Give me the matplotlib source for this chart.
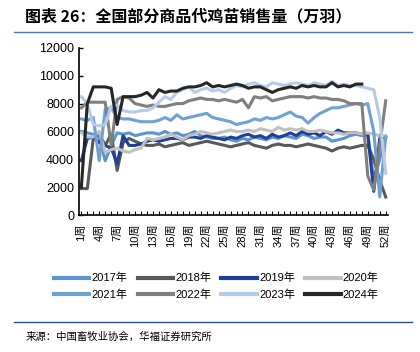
import matplotlib
matplotlib.use('Agg')
import matplotlib.pyplot as plt
from matplotlib.lines import Line2D

plt.rcParams['font.family'] = ['Liberation Sans', 'Noto Sans CJK SC']

# 周度数据（万羽）
weeks = list(range(1, 53))
tick_weeks = list(range(1, 53, 3))

y2017 = [6000, 5900, 5800, 5600, 3900, 5000, 5900, 5800, 5900, 5700, 5800, 5900, 5900, 5800,
         6000, 5800, 5900, 5700, 5800, 6000, 5700, 5600, 5500, 5500, 5600, 5400, 5300, 5500,
         5400, 5600, 5500, 5400, 5600, 5500, 5700, 5600, 5500, 5800, 5700, 5500, 5600, 5600,
         5300, 5400, 5500, 5700, 5800, 5700, 5800, 2500, 4000, 5600]
y2018 = [1900, 1900, 5500, 5800, 5000, 5800, 3200, 5200, 5500, 5300, 5100, 5000, 5000, 5100,
         4900, 5000, 5100, 5200, 5000, 5100, 5200, 5300, 5200, 5100, 5000, 4900, 5000, 5100,
         5200, 5000, 4900, 4800, 5000, 5100, 5000, 5000, 4900, 5000, 5100, 5000, 4900, 4800,
         4600, 4800, 4900, 4800, 4900, 5000, 5000, 4000, 2500, 1300]
y2019 = [3900, 5500, 5600, 5200, 5000, 4800, 3700, 5700, 5000, 5000, 5100, 5300, 5400, 5300,
         5400, 5500, 5500, 5400, 5600, 5600, 5500, 5700, 5600, 5500, 5400, 5600, 5500, 5700,
         5800, 5600, 5700, 5500, 5800, 5600, 5700, 5900, 5700, 6000, 5800, 5900, 5700, 6000,
         5800, 6100, 5900, 5900, 5900, 5800, 5800, 1700, 5500, 5600]
y2020 = [5900, 5600, 5600, 6000, 4500, 4700, 4800, 4600, 4500, 4700, 4800, 5500, 5400, 5500,
         5600, 5800, 5600, 5400, 5700, 5800, 6000, 5900, 5800, 5900, 6000, 6100, 6000, 6000,
         6100, 6000, 6200, 6100, 6000, 6300, 6100, 6200, 6100, 6200, 6000, 6000, 6100, 6000,
         5900, 5900, 5800, 5900, 5900, 5800, 5900, 5800, 5700, 5700]
y2021 = [6900, 6800, 7000, 3900, 7600, 7700, 7000, 6900, 6900, 6800, 6700, 6700, 6700, 6800,
         7000, 6800, 7200, 6900, 7000, 7100, 7200, 7300, 7000, 6900, 6800, 6700, 6500, 6600,
         6700, 6900, 6800, 7000, 6900, 7000, 7200, 7400, 7100, 7000, 6600, 7000, 7300, 7500,
         7700, 7700, 7800, 7900, 8000, 7900, 8000, 6000, 1300, 5600]
y2022 = [7700, 8100, 8100, 8100, 8100, 5000, 8300, 8500, 8400, 8000, 7900, 7800, 7900, 7800,
         7800, 7900, 8000, 8000, 8200, 8300, 8400, 8300, 8300, 8200, 8300, 8200, 8100, 8300,
         7700, 8500, 8400, 8500, 8200, 8300, 8400, 8500, 8500, 8500, 8400, 8500, 8400, 8400,
         8300, 8300, 8200, 8000, 8000, 8000, 2800, 1800, 5000, 8200]
y2023 = [8500, 8000, 6500, 6400, 6500, 7800, 7900, 7500, 7400, 7400, 7500, 7500, 7700, 8100,
         8500, 8300, 8800, 9000, 9200, 8800, 9000, 9100, 8900, 9000, 8800, 9100, 9300, 9200,
         9400, 9500, 9300, 9200, 9500, 9400, 9300, 9400, 9500, 9400, 9300, 9500, 9400, 9300,
         9600, 9300, 9400, 9300, 9300, 9200, 9100, 9000, 7000, 3000]
y2024 = [2000, 8000, 9200, 9200, 9200, 9100, 6500, 8500, 8500, 8500, 8600, 8800, 8400, 9000,
         8800, 8900, 8900, 9100, 9200, 9200, 9300, 9500, 9200, 9300, 9200, 9300, 9400, 9300,
         9100, 9200, 9200, 9000, 8800, 9000, 9100, 9200, 9100, 9300, 9200, 9300, 9200, 9200,
         9500, 9200, 9300, 9200, 9400, 9400]

series = [
    ('2017年', y2017, '#5b93d3'),
    ('2018年', y2018, '#595959'),
    ('2019年', y2019, '#1f3f96'),
    ('2020年', y2020, '#c0c0c0'),
    ('2021年', y2021, '#70a1d2'),
    ('2022年', y2022, '#7f7f7f'),
    ('2023年', y2023, '#b7cbe9'),
    ('2024年', y2024, '#262626'),
]

fig = plt.figure(figsize=(4.2, 3.52), dpi=100)
ax = fig.add_axes([0.188, 0.389, 0.736, 0.475])

for name, vals, col in series:
    ax.plot(weeks[:len(vals)], vals, color=col, lw=2.2, label=name, solid_joinstyle='round')

ax.set_ylim(0, 12000)
ax.set_yticks(range(0, 12001, 2000))
ax.set_xlim(0.6, 52.4)
ax.set_xticks(tick_weeks)
ax.set_xticks(weeks, minor=True)
ax.set_xticklabels([f'{w}周' for w in tick_weeks], rotation=90, fontsize=8)
ax.tick_params(axis='y', labelsize=9, direction='in', length=3, width=1)
ax.tick_params(axis='x', which='both', direction='in', length=3, width=0.8, pad=6)
for s in ['top', 'right']:
    ax.spines[s].set_visible(False)
for s in ['left', 'bottom']:
    ax.spines[s].set_linewidth(1.2)
    ax.spines[s].set_color('black')

# 图例按行排列：matplotlib 按列填充，所以交错顺序
order = [0, 4, 1, 5, 2, 6, 3, 7]
handles = [Line2D([0], [0], color=series[i][2], lw=3) for i in order]
labels = [series[i][0] for i in order]
fig.legend(handles, labels, ncol=4, loc='center',
           bbox_to_anchor=(0.515, 0.186), frameon=False, fontsize=8,
           handlelength=3.2, handletextpad=0.2, columnspacing=0.9, labelspacing=0.55)

# 标题与来源
fig.text(0.06, 0.952, '图表 26：全国部分商品代鸡苗销售量（万羽）', fontsize=11.5,
         fontweight='bold', va='center', family=['Noto Sans CJK SC'])
fig.add_artist(Line2D([0.033, 0.98], [0.909, 0.909], color='#4a78c2', lw=1))
fig.add_artist(Line2D([0.033, 0.98], [0.085, 0.085], color='#2a4f8f', lw=1))
fig.text(0.06, 0.043, '来源：中国畜牧业协会，华福证券研究所', fontsize=7.5, va='center',
         family=['Noto Sans CJK SC'])

fig.savefig('out.png', dpi=100)
